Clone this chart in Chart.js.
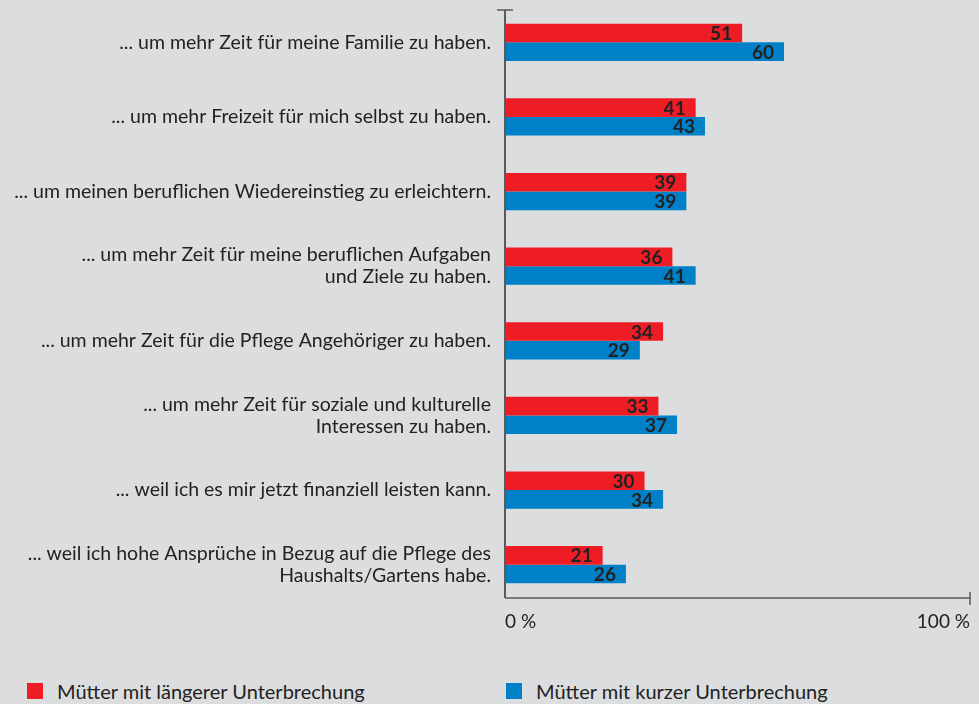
<!DOCTYPE html>
<html lang="de">
<head>
<meta charset="utf-8">
<script src="https://cdn.jsdelivr.net/npm/chart.js@4.4.1/dist/chart.umd.min.js"></script>
<style>
  html, body { margin: 0; padding: 0; background: #dcdddf; }
  body { width: 979px; height: 704px; position: relative; overflow: hidden; font-family: Lato, sans-serif; }
  #wrap { position: absolute; left: 0; top: 0; width: 979px; height: 650px; }
  .legend { position: absolute; top: 679px; display: flex; align-items: center; font-size: 20px; color: #222; }
  .legend i { display: inline-block; width: 16px; height: 16px; margin-right: 14px; }
</style>
</head>
<body>
<div id="wrap"><canvas id="chart"></canvas></div>
<div class="legend" style="left:27px"><i style="background:#ee1d25"></i>Mütter mit längerer Unterbrechung</div>
<div class="legend" style="left:506px"><i style="background:#0080c6"></i>Mütter mit kurzer Unterbrechung</div>
<script>
const categories = [
  '... um mehr Zeit für meine Familie zu haben.',
  '... um mehr Freizeit für mich selbst zu haben.',
  '... um meinen beruflichen Wiedereinstieg zu erleichtern.',
  ['... um mehr Zeit für meine beruflichen Aufgaben', 'und Ziele zu haben.'],
  '... um mehr Zeit für die Pflege Angehöriger zu haben.',
  ['... um mehr Zeit für soziale und kulturelle', 'Interessen zu haben.'],
  '... weil ich es mir jetzt finanziell leisten kann.',
  ['... weil ich hohe Ansprüche in Bezug auf die Pflege des', 'Haushalts/Gartens habe.']
];
const longBreak = [51, 41, 39, 36, 34, 33, 30, 21];
const shortBreak = [60, 43, 39, 41, 29, 37, 34, 26];
const xTicks = [0, 100];

const textColor = '#222';
const axisColor = '#5a5a5a';

// value labels at the inner end of each bar
const valueLabels = {
  id: 'valueLabels',
  afterDatasetsDraw(chart) {
    const c = chart.ctx;
    c.save();
    c.font = 'bold 19px Lato, sans-serif';
    c.fillStyle = textColor;
    c.textAlign = 'right';
    c.textBaseline = 'middle';
    chart.data.datasets.forEach((ds, i) => {
      chart.getDatasetMeta(i).data.forEach((bar, j) => {
        c.fillText(ds.data[j], bar.x - 10, bar.y + 1);
      });
    });
    c.restore();
  }
};

// axis lines with end ticks
const axisLines = {
  id: 'axisLines',
  afterDraw(chart) {
    const c = chart.ctx;
    const a = chart.chartArea;
    const x0 = chart.scales.x.getPixelForValue(0);
    const x1 = chart.scales.x.getPixelForValue(100);
    const top = a.top + 5;
    const bottom = a.bottom - 4;
    c.save();
    c.strokeStyle = axisColor;
    c.lineWidth = 2;
    c.beginPath();
    c.moveTo(x0, top);
    c.lineTo(x0, bottom);
    c.stroke();
    c.lineWidth = 1.5;
    c.beginPath();
    c.moveTo(x0 - 8, top);
    c.lineTo(x0 + 8, top);
    c.moveTo(x0, bottom);
    c.lineTo(x1, bottom);
    c.moveTo(x1, bottom - 6);
    c.lineTo(x1, bottom + 7);
    c.stroke();
    c.restore();
  }
};

new Chart(document.getElementById('chart'), {
  type: 'bar',
  data: {
    labels: categories,
    datasets: [
      { label: 'Mütter mit längerer Unterbrechung', data: longBreak, backgroundColor: '#ee1d25' },
      { label: 'Mütter mit kurzer Unterbrechung', data: shortBreak, backgroundColor: '#0080c6' }
    ]
  },
  options: {
    indexAxis: 'y',
    responsive: true,
    maintainAspectRatio: false,
    animation: false,
    layout: { padding: { top: 5, right: 9, left: 0, bottom: 0 } },
    datasets: { bar: { categoryPercentage: 0.5, barPercentage: 1 } },
    plugins: { legend: { display: false }, tooltip: { enabled: false } },
    scales: {
      x: {
        min: 0,
        max: 100,
        afterBuildTicks: (s) => { s.ticks = xTicks.map((v) => ({ value: v })); },
        afterFit: (s) => { s.height = 48; s.paddingLeft = 0; s.paddingRight = 0; },
        grid: { display: false, drawTicks: false },
        border: { display: false },
        ticks: {
          align: 'inner',
          padding: 8,
          color: textColor,
          font: { family: 'Lato', size: 19 },
          callback: (v) => v + ' %'
        }
      },
      y: {
        afterFit: (s) => { s.width = 505; s.paddingTop = 0; s.paddingBottom = 0; },
        grid: { display: false },
        border: { display: false },
        ticks: {
          padding: 6,
          color: textColor,
          font: { family: 'Lato', size: 19.5, lineHeight: 1.13 }
        }
      }
    }
  },
  plugins: [valueLabels, axisLines]
});
</script>
</body>
</html>
